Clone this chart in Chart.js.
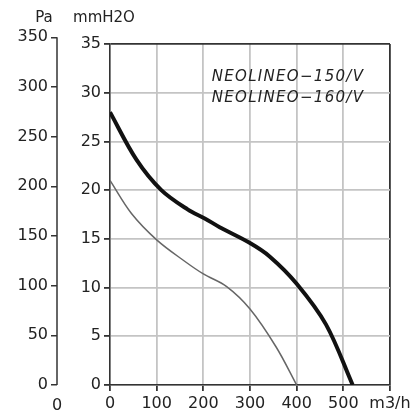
<!DOCTYPE html>
<html>
<head>
<meta charset="utf-8">
<script src="https://cdn.jsdelivr.net/npm/chart.js@4/dist/chart.umd.min.js"></script>
<style>
html, body { margin: 0; padding: 0; background: #fff; }
</style>
</head>
<body>
<canvas id="myChart" width="419" height="416"></canvas>
<script>
// courbes (debit m3/h, pression mmH2O)
const flow150 = [0, 46, 100, 160, 200, 250, 300, 356, 400];
const pressure150 = [21, 17.6, 14.9, 12.7, 11.4, 10.1, 7.8, 3.9, 0];
const flow160 = [0, 57, 110, 167, 203, 235, 299, 342, 400, 463, 520];
const pressure160 = [28, 23.1, 20, 18, 17.1, 16.2, 14.6, 13.2, 10.4, 6.2, 0];

const xTicks = [0, 100, 200, 300, 400, 500, 600];
const xTickLabels = ['0', '100', '200', '300', '400', '500', 'm3/h'];
const mmTicks = [0, 5, 10, 15, 20, 25, 30, 35];
const paTicks = [0, 50, 100, 150, 200, 250, 300, 350];
const legendLines = ['NEOLINEO\u2212150/V', 'NEOLINEO\u2212160/V'];

const ctx = document.getElementById('myChart');
const dark = '#333';
const light = '#c4c4c4';
const font = { family: 'DejaVu Sans', size: 16 };

const toPoints = (xs, ys) => xs.map((x, i) => ({ x: x, y: ys[i] }));

const extraText = {
    id: 'extraText',
    afterDraw(chart) {
        const c = chart.ctx;
        const x = chart.scales.x;
        const pa = chart.scales.pa;
        const area = chart.chartArea;
        c.save();
        // axe Pa (va jusqu'a 350 Pa, un peu plus haut que 35 mmH2O)
        c.strokeStyle = dark;
        c.lineWidth = 1.5;
        c.beginPath();
        c.moveTo(pa.right, pa.getPixelForValue(0));
        c.lineTo(pa.right, pa.getPixelForValue(350));
        c.stroke();

        c.fillStyle = '#222';
        c.font = '15px "DejaVu Sans"';
        c.textAlign = 'center';
        c.textBaseline = 'middle';
        c.fillText('Pa', pa.right - 13, area.top - 26);
        c.fillText('mmH2O', area.left - 6, area.top - 26);
        c.font = '16px "DejaVu Sans"';
        c.fillText('0', pa.right, area.bottom + 21);

        c.textAlign = 'left';
        c.textBaseline = 'alphabetic';
        c.font = 'italic 15px "DejaVu Sans"';
        c.letterSpacing = '1.3px';
        legendLines.forEach((t, i) => {
            c.fillText(t, x.getPixelForValue(218), area.top + 37 + i * 21);
        });
        c.restore();
    }
};

new Chart(ctx, {
    type: 'line',
    data: {
        datasets: [{
            label: legendLines[0],
            data: toPoints(flow150, pressure150),
            borderColor: '#666',
            borderWidth: 1.5,
            pointRadius: 0,
            tension: 0.35
        }, {
            label: legendLines[1],
            data: toPoints(flow160, pressure160),
            borderColor: '#111',
            borderWidth: 4,
            pointRadius: 0,
            tension: 0.35
        }]
    },
    options: {
        responsive: false,
        animation: false,
        layout: { padding: { top: 44, right: 29, left: 0, bottom: 0 } },
        plugins: {
            legend: { display: false },
            tooltip: { enabled: false }
        },
        scales: {
            x: {
                type: 'linear',
                min: 0,
                max: 600,
                afterBuildTicks: s => { s.ticks = xTicks.map(v => ({ value: v })); },
                afterFit: s => { s.height = 31; },
                ticks: {
                    font: font,
                    color: '#222',
                    padding: 3,
                    maxRotation: 0,
                    callback: (v, i) => xTickLabels[i]
                },
                grid: {
                    color: c => c.tick && c.tick.value === 600 ? dark : light,
                    lineWidth: 1.8,
                    tickLength: 6,
                    tickColor: dark
                },
                border: { color: dark, width: 1.5 }
            },
            y: {
                min: 0,
                max: 35,
                weight: 0,
                afterBuildTicks: s => { s.ticks = mmTicks.map(v => ({ value: v })); },
                afterFit: s => { s.width = 53; },
                ticks: { font: font, color: '#222', padding: 3 },
                grid: {
                    color: c => c.tick && c.tick.value === 35 ? dark : light,
                    lineWidth: 1.8,
                    tickLength: 6,
                    tickColor: dark
                },
                border: { color: dark, width: 1.5 }
            },
            pa: {
                position: 'left',
                min: 0,
                max: 35 * 9.80665,
                weight: 1,
                afterBuildTicks: s => { s.ticks = paTicks.map(v => ({ value: v })); },
                afterFit: s => { s.width = 57; },
                ticks: { font: font, color: '#222', padding: 3 },
                grid: {
                    drawOnChartArea: false,
                    tickLength: 6,
                    tickColor: dark,
                    lineWidth: 1.5
                },
                border: { display: false }
            }
        }
    },
    plugins: [extraText]
});
</script>
</body>
</html>
